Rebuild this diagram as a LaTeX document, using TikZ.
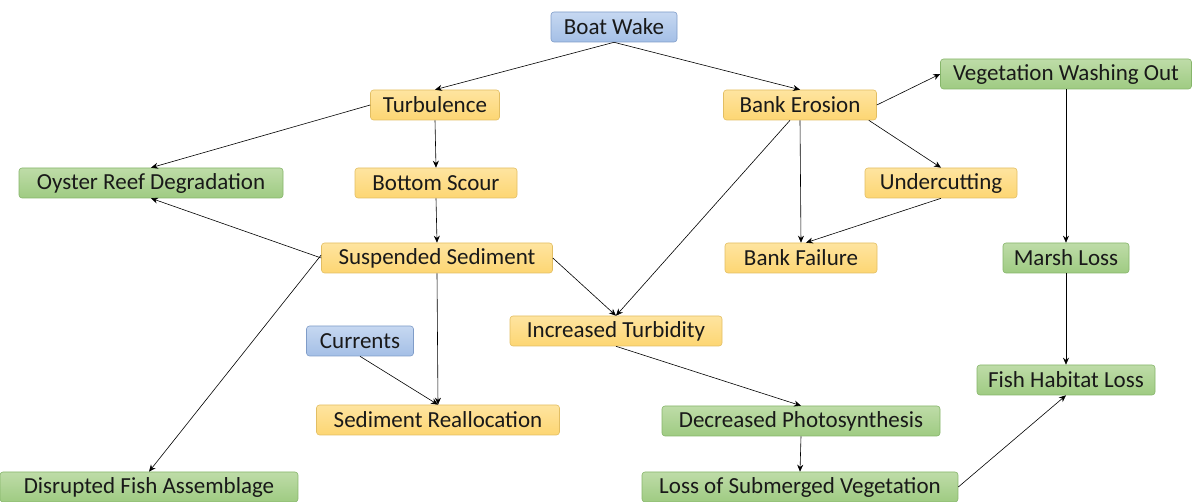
\documentclass[tikz,border=0pt]{standalone}
\usepackage{fontspec}
\setmainfont{Carlito}
\usetikzlibrary{arrows.meta}
\definecolor{bfill}{HTML}{A4BFE6}
\definecolor{bfillt}{HTML}{C6D8F1}
\definecolor{bdraw}{HTML}{7F9CC8}
\definecolor{ofill}{HTML}{FDD673}
\definecolor{ofillt}{HTML}{FEE4A0}
\definecolor{odraw}{HTML}{E2BE63}
\definecolor{gfill}{HTML}{9FCB82}
\definecolor{gfillt}{HTML}{BEDCA8}
\definecolor{gdraw}{HTML}{86B56A}
\tikzset{
  box/.style={rounded corners=3pt, inner sep=0pt, minimum height=30pt, font=\fontsize{23}{26}\selectfont, text=black!90, line width=0.6pt},
  bluebox/.style={box, draw=bdraw, top color=bfillt, bottom color=bfill},
  orangebox/.style={box, draw=odraw, top color=ofillt, bottom color=ofill},
  greenbox/.style={box, draw=gdraw, top color=gfillt, bottom color=gfill},
  arr/.style={-{Stealth[length=7pt,width=6pt]}, line width=0.6pt, black}
}
\begin{document}
\begin{tikzpicture}[x=1pt,y=-1pt]
\useasboundingbox (0,0) rectangle (1195,502);
\node[bluebox, minimum width=126pt] (bw) at (614,27) {Boat Wake};
\node[orangebox, minimum width=129pt] (tu) at (435,105) {Turbulence};
\node[orangebox, minimum width=153pt] (be) at (800,105) {Bank Erosion};
\node[greenbox, minimum width=251pt] (vw) at (1066,74) {Vegetation Washing Out};
\node[greenbox, minimum width=264pt] (or) at (151,183) {Oyster Reef Degradation};
\node[orangebox, minimum width=162pt] (bs) at (436,183) {Bottom Scour};
\node[orangebox, minimum width=152pt] (uc) at (941,183) {Undercutting};
\node[orangebox, minimum width=231pt] (ss) at (437,258) {Suspended Sediment};
\node[orangebox, minimum width=152pt] (bf) at (801,258) {Bank Failure};
\node[greenbox, minimum width=126pt] (ml) at (1066,258) {Marsh Loss};
\node[bluebox, minimum width=107pt] (cu) at (360,341) {Currents};
\node[orangebox, minimum width=212pt] (ti) at (616,331) {Increased Turbidity};
\node[greenbox, minimum width=178pt] (fh) at (1066,380) {Fish Habitat Loss};
\node[orangebox, minimum width=243pt] (sr) at (438,420) {Sediment Reallocation};
\node[greenbox, minimum width=278pt] (dp) at (801,421) {Decreased Photosynthesis};
\node[greenbox, minimum width=298pt] (df) at (149,487) {Disrupted Fish Assemblage};
\node[greenbox, minimum width=316pt] (ls) at (800,487) {Loss of Submerged Vegetation};

\draw[arr] (bw.south) -- (tu.north);
\draw[arr] (bw.south) -- (be.north);
\draw[arr] (tu.west) -- (or.north);
\draw[arr] (tu.south) -- (bs.north);
\draw[arr] (bs.south) -- (ss.north);
\draw[arr] (ss.west) -- (or.south);
\draw[arr] ([yshift=3pt]ss.west) -- (df.north);
\draw[arr] (ss.south) -- (sr.north);
\draw[arr] (cu.south) -- (sr.north);
\draw[arr] (ss.east) -- (ti.north);
\draw[arr] ([xshift=-10pt]be.south) -- (ti.north);
\draw[arr] (be.south) -- (bf.north);
\draw[arr] ([xshift=-8pt]be.south east) -- (uc.north);
\draw[arr] (be.east) -- (vw.west);
\draw[arr] (uc.south) -- ([xshift=5pt]bf.north);
\draw[arr] (vw.south) -- (ml.north);
\draw[arr] (ml.south) -- (fh.north);
\draw[arr] (ti.south) -- (dp.north);
\draw[arr] (dp.south) -- (ls.north);
\draw[arr] (ls.east) -- (fh.south);
\end{tikzpicture}
\end{document}
